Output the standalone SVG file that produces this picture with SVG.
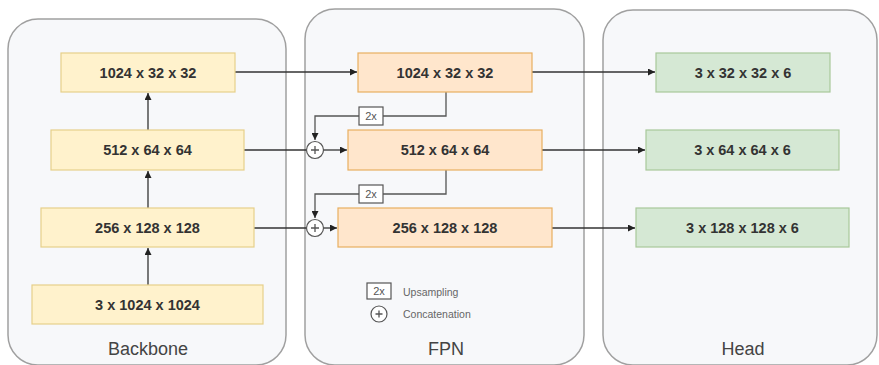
<svg xmlns="http://www.w3.org/2000/svg" width="879" height="365" viewBox="0 0 879 365">
<style>
.bg{fill:#ffffff}
.cont{fill:#f7f8fa;stroke:#a0a0a0;stroke-width:1.5}
.clbl{font-family:"Liberation Sans",Arial,sans-serif;font-size:18px;fill:#444;text-anchor:middle}
.lbl{font-family:"Liberation Sans",Arial,sans-serif;font-size:14.5px;font-weight:bold;fill:#333;text-anchor:middle;dominant-baseline:central}
.y{fill:#fff2cc;stroke:#e6d08a;stroke-width:1.2}
.o{fill:#ffe6cc;stroke:#e8b060;stroke-width:1.2}
.g{fill:#d5e8d4;stroke:#a8c89a;stroke-width:1.2}
.ln{fill:none;stroke:#333;stroke-width:1.3}
.ln2{fill:none;stroke:#555;stroke-width:1.3}
.up{fill:#fff;stroke:#555;stroke-width:1.2}
.uptxt{font-family:"Liberation Sans",Arial,sans-serif;font-size:11px;fill:#555;text-anchor:middle;dominant-baseline:central}
.leg{font-family:"Liberation Sans",Arial,sans-serif;font-size:10.5px;fill:#666;dominant-baseline:central}
.cat{fill:#fff;stroke:#555;stroke-width:1.2}
</style>
<defs>
<marker id="ah" viewBox="0 0 10 10" refX="10" refY="5" markerWidth="7" markerHeight="7" orient="auto" markerUnits="userSpaceOnUse">
<path d="M0,0 L10,5 L0,10 z" fill="#222"/>
</marker>
</defs>
<rect class="bg" x="0" y="0" width="879" height="365"/>
<g id="backbone">
<rect class="cont" x="8" y="19" width="278" height="346" rx="30"/>
<text class="clbl" x="148" y="355">Backbone</text>
</g>
<g id="fpn">
<rect class="cont" x="305" y="9" width="279" height="356" rx="30"/>
<text class="clbl" x="446" y="355">FPN</text>
</g>
<g id="head">
<rect class="cont" x="603" y="10" width="274" height="355" rx="30"/>
<text class="clbl" x="743" y="355">Head</text>
</g>

<g id="connectors">
<line class="ln" x1="148" y1="285" x2="148" y2="248" marker-end="url(#ah)"/>
<line class="ln" x1="148" y1="208" x2="148" y2="171" marker-end="url(#ah)"/>
<line class="ln" x1="148" y1="130" x2="148" y2="93" marker-end="url(#ah)"/>
<line class="ln" x1="235" y1="72" x2="357" y2="72" marker-end="url(#ah)"/>
<line class="ln" x1="244" y1="150" x2="306" y2="150"/>
<line class="ln" x1="323" y1="150" x2="347" y2="150" marker-end="url(#ah)"/>
<line class="ln" x1="254" y1="228" x2="306" y2="228"/>
<line class="ln" x1="323" y1="228" x2="337" y2="228" marker-end="url(#ah)"/>
<line class="ln" x1="532" y1="72" x2="655" y2="72" marker-end="url(#ah)"/>
<line class="ln" x1="542" y1="150" x2="645" y2="150" marker-end="url(#ah)"/>
<line class="ln" x1="552" y1="228" x2="635" y2="228" marker-end="url(#ah)"/>
<path class="ln2" d="M446,92 V116 H315 V140" marker-end="url(#ah)"/>
<path class="ln2" d="M446,170 V194 H315 V218" marker-end="url(#ah)"/>
</g>

<g id="up1"><rect class="up" x="359" y="107" width="24" height="18"/><text class="uptxt" x="371" y="116">2x</text></g>
<g id="up2"><rect class="up" x="359" y="185" width="24" height="18"/><text class="uptxt" x="371" y="194">2x</text></g>
<g id="cat1"><circle class="cat" cx="315" cy="150" r="8.5"/><path class="ln2" d="M311,150 H319 M315,146 V154"/></g>
<g id="cat2"><circle class="cat" cx="315" cy="228" r="8.5"/><path class="ln2" d="M311,228 H319 M315,224 V232"/></g>

<g id="bb1"><rect class="y" x="61" y="53" width="174" height="39"/><text class="lbl" x="148" y="72.5">1024 x 32 x 32</text></g>
<g id="bb2"><rect class="y" x="51" y="130" width="193" height="40"/><text class="lbl" x="147.5" y="150">512 x 64 x 64</text></g>
<g id="bb3"><rect class="y" x="41" y="208" width="213" height="39"/><text class="lbl" x="147.5" y="227.5">256 x 128 x 128</text></g>
<g id="bb4"><rect class="y" x="32" y="285" width="231" height="39"/><text class="lbl" x="147.5" y="304.5">3 x 1024 x 1024</text></g>

<g id="fp1"><rect class="o" x="358" y="53" width="174" height="39"/><text class="lbl" x="445" y="72.5">1024 x 32 x 32</text></g>
<g id="fp2"><rect class="o" x="348" y="130" width="194" height="40"/><text class="lbl" x="445" y="150">512 x 64 x 64</text></g>
<g id="fp3"><rect class="o" x="338" y="208" width="214" height="39"/><text class="lbl" x="445" y="227.5">256 x 128 x 128</text></g>

<g id="hd1"><rect class="g" x="656" y="53" width="174" height="39"/><text class="lbl" x="743" y="72.5">3 x 32 x 32 x 6</text></g>
<g id="hd2"><rect class="g" x="646" y="130" width="193" height="40"/><text class="lbl" x="742.5" y="150">3 x 64 x 64 x 6</text></g>
<g id="hd3"><rect class="g" x="636" y="208" width="213" height="39"/><text class="lbl" x="742.5" y="227.5">3 x 128 x 128 x 6</text></g>

<g id="legend">
<rect class="up" x="367" y="283" width="24" height="16"/><text class="uptxt" x="379" y="291">2x</text>
<text class="leg" x="403" y="292">Upsampling</text>
<circle class="cat" cx="379" cy="314" r="8"/><path class="ln2" d="M375.5,314 H382.5 M379,310.5 V317.5"/>
<text class="leg" x="403" y="314">Concatenation</text>
</g>
</svg>
